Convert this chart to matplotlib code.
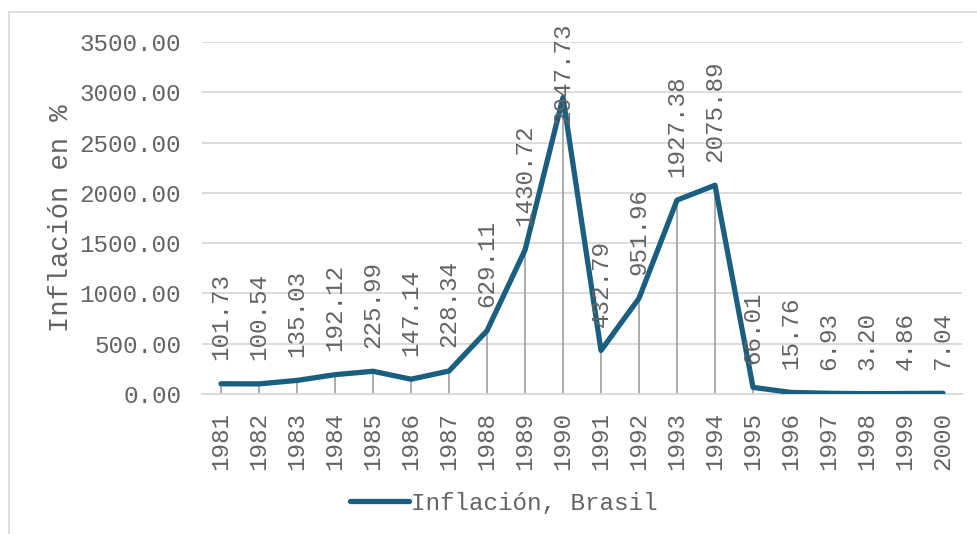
import matplotlib
matplotlib.use("Agg")
import matplotlib.pyplot as plt
from matplotlib.patches import Rectangle

years = [str(y) for y in range(1981, 2001)]
inflation = [101.73, 100.54, 135.03, 192.12, 225.99, 147.14, 228.34, 629.11,
             1430.72, 2947.73, 432.79, 951.96, 1927.38, 2075.89, 66.01, 15.76,
             6.93, 3.20, 4.86, 7.04]
yticks = [0, 500, 1000, 1500, 2000, 2500, 3000, 3500]

TXT = "#636363"
LINE = "#1a5e80"
GRID = "#d9d9d9"
FS = 17.5

plt.rcParams["font.family"] = ["Liberation Mono", "DejaVu Sans Mono"]

W, H = 977, 534
fig = plt.figure(figsize=(W / 100, H / 100), dpi=100)
ax = fig.add_axes([202 / W, 1 - 394 / H, (962 - 202) / W, (394 - 42) / H])

# chart border (left and top edges only show inside the canvas)
fig.patches.append(Rectangle((8.5 / W, -0.1), 1.2, 1.1 - 12.5 / H, transform=fig.transFigure,
                             fill=False, edgecolor=GRID, linewidth=1.2, zorder=0))

xs = list(range(len(years)))
ax.vlines(xs, 0, inflation, colors="#a6a6a6", linewidth=1.3, zorder=2)
ax.plot(xs, inflation, color=LINE, linewidth=3.8, solid_capstyle="round",
        solid_joinstyle="round", zorder=3, label="Inflación, Brasil")

ax.set_xlim(-0.5, len(years) - 0.5)
ax.set_ylim(0, 3500)
ax.set_yticks(yticks)
ax.set_yticklabels([f"{v:.2f}" for v in yticks])
ax.set_xticks(xs)
ax.set_xticklabels(years, rotation=90)
ax.tick_params(axis="both", length=0, labelsize=FS, labelcolor=TXT)
ax.tick_params(axis="y", pad=15)
ax.tick_params(axis="x", pad=13)
ax.grid(axis="y", color=GRID, linewidth=1.3)
ax.set_axisbelow(True)
for side in ("top", "right", "left"):
    ax.spines[side].set_visible(False)
ax.spines["bottom"].set_color(GRID)
ax.spines["bottom"].set_linewidth(1.3)

ax.set_ylabel("Inflación en %", fontsize=19.5, color=TXT, labelpad=4)

# value labels above each point, pushed down if they would leave the chart
fig.canvas.draw()
renderer = fig.canvas.get_renderer()
top_limit = H - 22
for x, v in zip(xs, inflation):
    ann = ax.annotate(f"{v:.2f}", (x, v), xytext=(0, 17), textcoords="offset points",
                      rotation=90, ha="center", va="bottom", fontsize=FS, color=TXT,
                      zorder=4)
    bb = ann.get_window_extent(renderer)
    if bb.y1 > top_limit:
        shift = (bb.y1 - top_limit) * 72 / fig.dpi
        ann.set_position((0, 17 - shift))

fig.legend(loc="center", bbox_to_anchor=(504 / W, 1 - 503 / H), frameon=False,
           fontsize=FS, handlelength=2.4, handletextpad=0.1, labelcolor=TXT)

fig.savefig("out.png", dpi=100, facecolor="white")
